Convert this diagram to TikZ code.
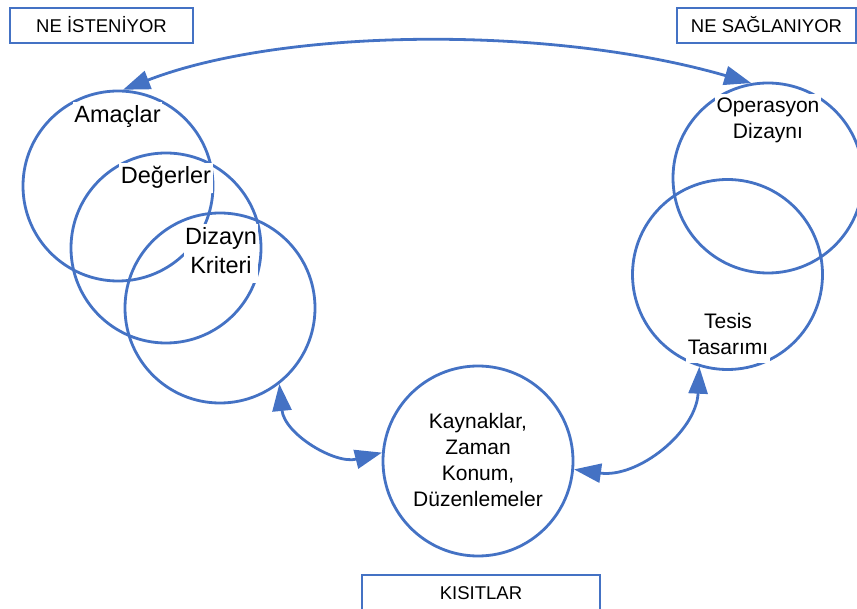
\documentclass[tikz,border=0pt]{standalone}
\usepackage{fontspec}
\setmainfont{Liberation Sans}
\usetikzlibrary{arrows.meta}
\definecolor{ofisMavi}{RGB}{68,114,196}
\tikzset{
  halka/.style={circle, draw=ofisMavi, line width=2.8pt, minimum size=190pt, inner sep=0pt},
  yazi/.style={fill=white, inner xsep=1.5pt, inner ysep=0.5pt, align=center, text=black},
  buyukyazi/.style={yazi, font=\fontsize{23.5}{29}\selectfont},
  kucukyazi/.style={yazi, font=\fontsize{21}{26}\selectfont},
  baslik/.style={draw=ofisMavi, line width=2.7pt, minimum height=35pt, inner sep=0pt,
    text height=13.3pt, text depth=0pt, font=\fontsize{18.5}{22}\selectfont},
  okcift/.style={draw=ofisMavi, line width=2.8pt, >={Triangle[length=27pt,width=19pt]}, <->}
}
\begin{document}
\begin{tikzpicture}[x=1pt, y=-1pt]
\useasboundingbox (0,0) rectangle (857,609);
\clip (0,0) rectangle (857,609);

% headings
\node[baslik, minimum width=183pt] (istenen) at (101.5,25.5) {NE İSTENİYOR};
\node[baslik, minimum width=179pt] (saglanan) at (766.5,25.5) {NE SAĞLANIYOR};
\node[baslik, minimum width=238pt] (kisit) at (481,592.5) {KISITLAR};

% circles
\node[halka] (amac) at (118,186) {};
\node[halka] (deger) at (166,248) {};
\node[halka] (kriter) at (220,308) {};
\node[halka] (oper) at (768,178) {};
\node[halka] (tesis) at (727.5,274.5) {};
\node[halka] (kaynak) at (478,461) {};

% labels on white patches
\node[buyukyazi] (tamac) at (117.5,116.9) {Amaçlar\strut};
\node[buyukyazi] (tdeger) at (166,178.2) {Değerler\strut};
\node[buyukyazi] (tkriter) at (221,253.7) {Dizayn\strut\\Kriteri\strut};
\node[kucukyazi] (toper) at (768,120.3) {Operasyon\strut\\Dizaynı\strut};
\node[kucukyazi] (ttesis) at (728,336.3) {Tesis\strut\\Tasarımı\strut};
\node[kucukyazi] (tkaynak) at (478,461.8) {Kaynaklar,\strut\\Zaman\strut\\Konum,\strut\\Düzenlemeler\strut};

% two-way links
\draw[okcift] (amac.87) .. controls +(160,-62) and +(-200,-58) .. (oper.100);
\draw[okcift] (kriter.-52) .. controls +(5,50) and +(-47,12) .. (kaynak.175);
\draw[okcift] (kaynak.355) .. controls +(64,9) and +(-3,65) .. (tesis.-107);
\end{tikzpicture}
\end{document}
